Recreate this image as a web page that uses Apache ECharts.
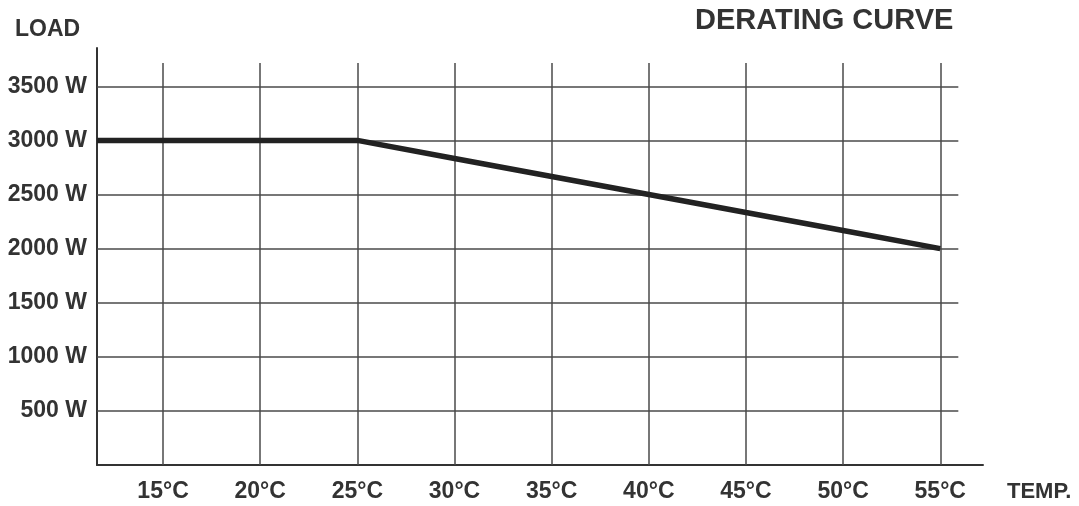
<!DOCTYPE html>
<html>
<head>
<meta charset="utf-8">
<script src="https://cdn.jsdelivr.net/npm/echarts@6/dist/echarts.min.js"></script>
<style>
  html, body { margin: 0; padding: 0; background: #fff; }
  #chart { width: 1079px; height: 506px; }
</style>
</head>
<body>
<div id="chart"></div>
<script>
// derating curve data
const temps = [11.6, 15, 20, 25, 30, 35, 40, 45, 50, 55]
const loads = [3000, 3000, 3000, 3000, 2833, 2667, 2500, 2333, 2167, 2000]

const xTicks = [15, 20, 25, 30, 35, 40, 45, 50, 55]
const yTicks = [500, 1000, 1500, 2000, 2500, 3000, 3500]

const xMin = 11.6
const xMax = 57.2
const yMax = 3854
const gridTop = 3715 // where vertical grid lines stop
const gridRight = 55.93 // where horizontal grid lines stop

const textColor = '#333'
const font = 'Liberation Sans, Arial, sans-serif'

const chart = echarts.init(document.getElementById('chart'))

// grid lines as markLines so they stop short like the original
const gridLines = []
xTicks.forEach(v => {
  gridLines.push([{ coord: [v, 0] }, { coord: [v, gridTop] }])
})
yTicks.forEach(v => {
  gridLines.push([{ coord: [xMin, v] }, { coord: [gridRight, v] }])
})

chart.setOption({
  animation: false,
  grid: {
    left: 97,
    right: 96,
    top: 48,
    bottom: 41
  },
  graphic: [
    {
      type: 'text',
      left: 15,
      top: 18,
      style: { text: 'LOAD', font: 'bold 23px ' + font, fill: textColor }
    },
    {
      type: 'text',
      left: 695,
      top: 6,
      style: { text: 'DERATING CURVE', font: 'bold 29px ' + font, fill: textColor }
    },
    {
      type: 'text',
      left: 1007,
      top: 481,
      style: { text: 'TEMP.', font: 'bold 22px ' + font, fill: textColor }
    }
  ],
  xAxis: {
    type: 'value',
    min: xMin,
    max: xMax,
    axisLine: { show: true, onZero: false, lineStyle: { color: '#333', width: 2 } },
    axisTick: { show: false },
    splitLine: { show: false },
    axisLabel: {
      customValues: xTicks,
      formatter: v => v + '°C',
      color: textColor,
      fontFamily: font,
      fontWeight: 'bold',
      fontSize: 23,
      margin: 15
    }
  },
  yAxis: {
    type: 'value',
    min: 0,
    max: yMax,
    axisLine: { show: true, lineStyle: { color: '#333', width: 2 } },
    axisTick: { show: false },
    splitLine: { show: false },
    axisLabel: {
      customValues: yTicks,
      formatter: v => v + ' W',
      color: textColor,
      fontFamily: font,
      fontWeight: 'bold',
      fontSize: 23,
      margin: 10
    }
  },
  series: [
    {
      type: 'line',
      data: temps.map((t, i) => [t, loads[i]]),
      showSymbol: false,
      lineStyle: { color: '#222', width: 5.5 },
      z: 5,
      markLine: {
        silent: true,
        symbol: 'none',
        label: { show: false },
        lineStyle: { color: '#4a4a4a', width: 1.5, type: 'solid' },
        z: 1,
        data: gridLines
      }
    }
  ]
})
</script>
</body>
</html>
